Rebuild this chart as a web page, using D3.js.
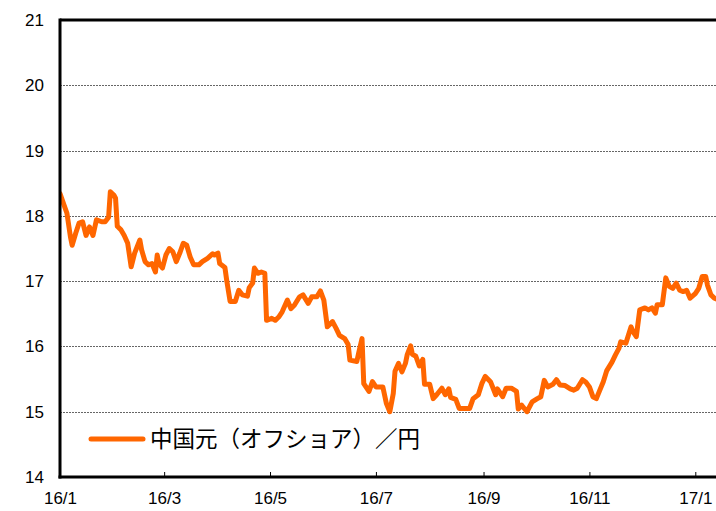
<!DOCTYPE html>
<html><head><meta charset="utf-8">
<script src="https://cdn.jsdelivr.net/npm/d3@7"></script>
<style>body{margin:0;background:#fff}svg{display:block}</style>
</head><body>
<svg id="c" width="716" height="511"></svg>
<script>
const seriesName = "中国元（オフショア）／円";
const dates = ["2016-01-01","2016-01-05","2016-01-07","2016-01-08","2016-01-10","2016-01-12","2016-01-14","2016-01-16","2016-01-18","2016-01-20","2016-01-22","2016-01-25","2016-01-27","2016-01-29","2016-01-30","2016-02-01","2016-02-02","2016-02-03","2016-02-05","2016-02-07","2016-02-09","2016-02-11","2016-02-13","2016-02-16","2016-02-17","2016-02-19","2016-02-21","2016-02-23","2016-02-25","2016-02-26","2016-02-27","2016-02-29","2016-03-02","2016-03-04","2016-03-06","2016-03-08","2016-03-10","2016-03-12","2016-03-14","2016-03-16","2016-03-18","2016-03-21","2016-03-23","2016-03-26","2016-03-29","2016-03-30","2016-04-01","2016-04-02","2016-04-05","2016-04-06","2016-04-08","2016-04-11","2016-04-13","2016-04-15","2016-04-18","2016-04-19","2016-04-21","2016-04-22","2016-04-24","2016-04-26","2016-04-28","2016-04-29","2016-05-02","2016-05-04","2016-05-06","2016-05-08","2016-05-11","2016-05-13","2016-05-15","2016-05-18","2016-05-20","2016-05-23","2016-05-25","2016-05-28","2016-05-30","2016-06-01","2016-06-03","2016-06-06","2016-06-08","2016-06-10","2016-06-13","2016-06-15","2016-06-16","2016-06-20","2016-06-21","2016-06-23","2016-06-24","2016-06-27","2016-06-29","2016-07-01","2016-07-05","2016-07-07","2016-07-09","2016-07-11","2016-07-12","2016-07-14","2016-07-16","2016-07-18","2016-07-19","2016-07-21","2016-07-22","2016-07-24","2016-07-26","2016-07-28","2016-07-29","2016-08-01","2016-08-03","2016-08-05","2016-08-08","2016-08-10","2016-08-12","2016-08-13","2016-08-16","2016-08-18","2016-08-24","2016-08-26","2016-08-29","2016-08-31","2016-09-02","2016-09-05","2016-09-08","2016-09-09","2016-09-12","2016-09-14","2016-09-17","2016-09-20","2016-09-21","2016-09-23","2016-09-26","2016-09-29","2016-10-02","2016-10-04","2016-10-06","2016-10-08","2016-10-11","2016-10-13","2016-10-15","2016-10-18","2016-10-21","2016-10-23","2016-10-25","2016-10-28","2016-10-30","2016-11-01","2016-11-03","2016-11-05","2016-11-07","2016-11-09","2016-11-11","2016-11-14","2016-11-16","2016-11-18","2016-11-19","2016-11-22","2016-11-25","2016-11-26","2016-11-28","2016-11-30","2016-12-03","2016-12-05","2016-12-07","2016-12-09","2016-12-10","2016-12-13","2016-12-15","2016-12-17","2016-12-19","2016-12-21","2016-12-23","2016-12-25","2016-12-27","2016-12-29","2017-01-01","2017-01-03","2017-01-05","2017-01-07","2017-01-08","2017-01-10","2017-01-12","2017-01-14"];
const values = [18.34,18.04,17.68,17.55,17.73,17.89,17.91,17.70,17.83,17.70,17.94,17.91,17.91,17.98,18.37,18.32,18.27,17.84,17.79,17.70,17.58,17.22,17.43,17.63,17.48,17.30,17.25,17.27,17.14,17.40,17.27,17.20,17.40,17.50,17.45,17.30,17.43,17.58,17.55,17.37,17.25,17.25,17.30,17.35,17.42,17.40,17.43,17.27,17.21,17.02,16.69,16.69,16.86,16.79,16.77,16.90,16.97,17.20,17.12,17.14,17.12,16.40,16.43,16.40,16.45,16.53,16.71,16.58,16.63,16.76,16.79,16.66,16.76,16.76,16.85,16.71,16.30,16.38,16.28,16.17,16.12,16.03,15.79,15.77,15.89,16.12,15.43,15.31,15.46,15.38,15.38,15.13,15.00,15.28,15.62,15.74,15.61,15.74,15.87,16.01,15.88,15.85,15.70,15.80,15.42,15.42,15.20,15.26,15.36,15.26,15.35,15.22,15.19,15.05,15.05,15.20,15.26,15.43,15.54,15.46,15.26,15.35,15.23,15.36,15.36,15.31,15.04,15.10,15.00,15.15,15.20,15.23,15.48,15.38,15.42,15.49,15.41,15.40,15.35,15.33,15.36,15.49,15.45,15.38,15.23,15.20,15.33,15.46,15.63,15.76,15.87,15.97,16.07,16.05,16.30,16.23,16.15,16.56,16.59,16.56,16.59,16.51,16.64,16.64,17.05,16.92,16.89,16.97,16.86,16.84,16.86,16.74,16.81,16.89,17.07,17.07,16.94,16.79,16.74,16.72];
const yTicks = [14,15,16,17,18,19,20,21];
const xTickDates = ["2016-01-01","2016-03-01","2016-05-01","2016-07-01","2016-09-01","2016-11-01","2017-01-01"];
const xTickLabels = ["16/1","16/3","16/5","16/7","16/9","16/11","17/1"];

const svg = d3.select("#c");
const parse = d3.timeParse("%Y-%m-%d");
const data = dates.map((d,i)=>({date:parse(d), v:values[i]}));
const pLeft = 60, pTop = 20, pBottom = 477, pRight = 716;
const x = d3.scaleTime().domain([parse("2016-01-01"), parse("2017-01-01")]).range([pLeft, 695.3]);
const y = d3.scaleLinear().domain([14,21]).range([pBottom, pTop]);

// gridlines
svg.append("g").selectAll("line").data(yTicks.filter(t=>t>14 && t<21)).join("line")
  .attr("x1", pLeft).attr("x2", pRight)
  .attr("y1", d=>Math.round(y(d))+0.5).attr("y2", d=>Math.round(y(d))+0.5)
  .attr("stroke","#666").attr("stroke-width",1).attr("stroke-dasharray","2,1");

// clip
svg.append("clipPath").attr("id","clip").append("rect")
  .attr("x", pLeft).attr("y", pTop).attr("width", pRight-pLeft).attr("height", pBottom-pTop);

const line = d3.line().x(d=>x(d.date)).y(d=>y(d.v)).curve(d3.curveLinear);
svg.append("path").datum(data).attr("clip-path","url(#clip)")
  .attr("d", line).attr("fill","none").attr("stroke","#FF6600")
  .attr("stroke-width",5).attr("stroke-linejoin","round").attr("stroke-linecap","round");

// frame: top, left
svg.append("line").attr("x1",pLeft).attr("x2",pRight).attr("y1",pTop).attr("y2",pTop).attr("stroke","#000").attr("stroke-width",3);
svg.append("line").attr("x1",pLeft).attr("x2",pLeft).attr("y1",pTop-1.5).attr("y2",pBottom+1.5).attr("stroke","#000").attr("stroke-width",3);

// x axis
const xAxis = d3.axisBottom(x)
  .tickValues(xTickDates.map(parse))
  .tickFormat((d,i)=>xTickLabels[i])
  .tickSize(-5).tickPadding(15);
const gx = svg.append("g").attr("transform",`translate(0,${pBottom})`).call(xAxis);
gx.select(".domain").remove();
gx.selectAll(".tick line").attr("stroke","#000").attr("stroke-width",1);
gx.selectAll("text").attr("font-family","'Liberation Sans', Arial, sans-serif").attr("font-size",17).attr("fill","#000");
svg.append("line").attr("x1",pLeft-1.5).attr("x2",pRight).attr("y1",pBottom).attr("y2",pBottom).attr("stroke","#000").attr("stroke-width",3);

// y axis labels
const yAxis = d3.axisLeft(y).tickValues(yTicks).tickFormat(d3.format("d")).tickSize(0).tickPadding(16);
const gy = svg.append("g").attr("transform",`translate(${pLeft},0)`).call(yAxis);
gy.select(".domain").remove();
gy.selectAll("text").attr("font-family","'Liberation Sans', Arial, sans-serif").attr("font-size",17).attr("fill","#000");

// legend
svg.append("line").attr("x1",91).attr("x2",143).attr("y1",439).attr("y2",439)
  .attr("stroke","#FF6600").attr("stroke-width",5).attr("stroke-linecap","round");
svg.append("text").attr("x",150).attr("y",447).text(seriesName)
  .attr("font-family","'Noto Sans CJK JP', sans-serif").attr("font-size",22.5).attr("fill","#000");
</script>
</body></html>
